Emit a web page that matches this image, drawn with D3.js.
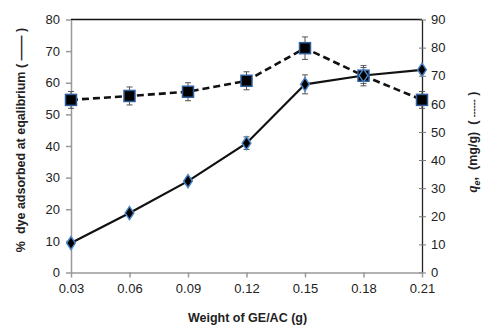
<!DOCTYPE html>
<html>
<head>
<meta charset="utf-8">
<script src="https://cdn.jsdelivr.net/npm/d3@7"></script>
<style>
  body { margin: 0; background: #fff; }
  svg { display: block; font-family: "Liberation Sans", Arial, sans-serif; }
  .tick text { font-size: 13px; fill: #222; }
  .axis-title { font-size: 12.5px; font-weight: bold; fill: #222; }
</style>
</head>
<body>
<div id="chart"></div>
<script>
// Data
const weights = ['0.03', '0.06', '0.09', '0.12', '0.15', '0.18', '0.21'];
const percentAdsorbed = [9.3, 18.8, 28.9, 40.9, 59.5, 62.3, 64.1];
const percentErr = [0.8, 0.8, 1.0, 2.0, 3.0, 2.5, 1.0];
const qe = [61.4, 62.8, 64.3, 68.2, 79.8, 70.0, 61.4];
const qeErr = [3.0, 3.2, 3.2, 3.2, 4.0, 3.6, 3.0];
const leftTicks = [0, 10, 20, 30, 40, 50, 60, 70, 80];
const rightTicks = [0, 10, 20, 30, 40, 50, 60, 70, 80, 90];

const W = 484, H = 327;
const margin = {top: 19.5, right: 62, bottom: 54.5, left: 71};
const x0 = margin.left, x1 = W - margin.right;
const y0 = H - margin.bottom, y1 = margin.top;

const svg = d3.select('#chart').append('svg')
    .attr('width', W).attr('height', H);

const x = d3.scalePoint().domain(weights).range([x0, x1]);
const yL = d3.scaleLinear().domain([0, 80]).range([y0, y1]);
const yR = d3.scaleLinear().domain([0, 90]).range([y0, y1]);

// Top border
svg.append('line').attr('x1', x0).attr('x2', x1).attr('y1', y1).attr('y2', y1)
    .attr('stroke', '#111').attr('stroke-width', 1.3);

// Left axis (gray)
const gL = svg.append('g').attr('transform', `translate(${x0},0)`)
    .call(d3.axisLeft(yL).tickValues(leftTicks).tickSize(5).tickPadding(6).tickSizeOuter(0));
gL.selectAll('.domain, .tick line').attr('stroke', '#999').attr('stroke-width', 1.5);

// Right axis (black)
const gR = svg.append('g').attr('transform', `translate(${x1},0)`)
    .call(d3.axisRight(yR).tickValues(rightTicks).tickSize(4).tickPadding(5).tickSizeOuter(0));
gR.selectAll('.domain').attr('stroke', '#222').attr('stroke-width', 1.3);
gR.selectAll('.tick line').attr('stroke', '#777').attr('x1', -3);

// Bottom axis (gray)
const gB = svg.append('g').attr('transform', `translate(0,${y0})`)
    .call(d3.axisBottom(x).tickSize(5).tickPadding(6).tickSizeOuter(0));
gB.selectAll('.domain, .tick line').attr('stroke', '#999').attr('stroke-width', 1.5);

gL.selectAll('.tick text').attr('font-size', 13);
gR.selectAll('.tick text').attr('font-size', 13);
gB.selectAll('.tick text').attr('font-size', 13);

// Axis titles
svg.append('text').attr('class', 'axis-title')
    .attr('x', (x0 + x1) / 2 + 1).attr('y', 322).attr('text-anchor', 'middle')
    .text('Weight of GE/AC (g)');

svg.append('text').attr('class', 'axis-title')
    .attr('transform', 'translate(25,140) rotate(-90)').attr('text-anchor', 'middle')
    .attr('xml:space', 'preserve')
    .text('%  dye adsorbed at eqalibrium ( \u2014\u2014 )');

const rt = svg.append('text').attr('class', 'axis-title')
    .attr('transform', 'translate(477,142) rotate(-90)').attr('text-anchor', 'middle')
    .attr('xml:space', 'preserve');
rt.append('tspan').attr('font-style', 'italic').attr('font-family', '"Liberation Serif", serif').attr('font-size', 14).text('q');
rt.append('tspan').attr('font-style', 'italic').attr('font-size', 9).attr('dy', 3).text('e');
rt.append('tspan').attr('dy', -3).text(',  (mg/g)  ( ');
rt.append('tspan').attr('font-size', 9).text('------');
rt.append('tspan').text(' )');

// Error bars
function errorBars(vals, errs, y) {
    const g = svg.append('g').attr('stroke', '#555').attr('stroke-width', 1);
    vals.forEach((v, i) => {
        const cx = x(weights[i]);
        g.append('line').attr('x1', cx).attr('x2', cx).attr('y1', y(v - errs[i])).attr('y2', y(v + errs[i]));
        [v - errs[i], v + errs[i]].forEach(e => {
            g.append('line').attr('x1', cx - 3).attr('x2', cx + 3).attr('y1', y(e)).attr('y2', y(e));
        });
    });
}
errorBars(qe, qeErr, yR);
errorBars(percentAdsorbed, percentErr, yL);

// qe series: dashed line + squares
svg.append('path')
    .attr('d', d3.line().x((d, i) => x(weights[i])).y(d => yR(d))(qe))
    .attr('fill', 'none').attr('stroke', '#111').attr('stroke-width', 2.6)
    .attr('stroke-dasharray', '7,4');

// % adsorbed series: solid line
svg.append('path')
    .attr('d', d3.line().x((d, i) => x(weights[i])).y(d => yL(d))(percentAdsorbed))
    .attr('fill', 'none').attr('stroke', '#111').attr('stroke-width', 2.2);

svg.append('g').selectAll('rect').data(qe).join('rect')
    .attr('x', (d, i) => x(weights[i]) - 5.5).attr('y', d => yR(d) - 5.5)
    .attr('width', 11).attr('height', 11)
    .attr('fill', '#000').attr('stroke', '#2f5f9e').attr('stroke-width', 1.5);

const diamond = d3.symbol().type(d3.symbolDiamond).size(50);
svg.append('g').selectAll('path').data(percentAdsorbed).join('path')
    .attr('d', diamond)
    .attr('transform', (d, i) => `translate(${x(weights[i])},${yL(d)}) scale(1.15,1)`)
    .attr('fill', '#000').attr('stroke', '#4a86c8').attr('stroke-width', 1.3);
</script>
</body>
</html>
